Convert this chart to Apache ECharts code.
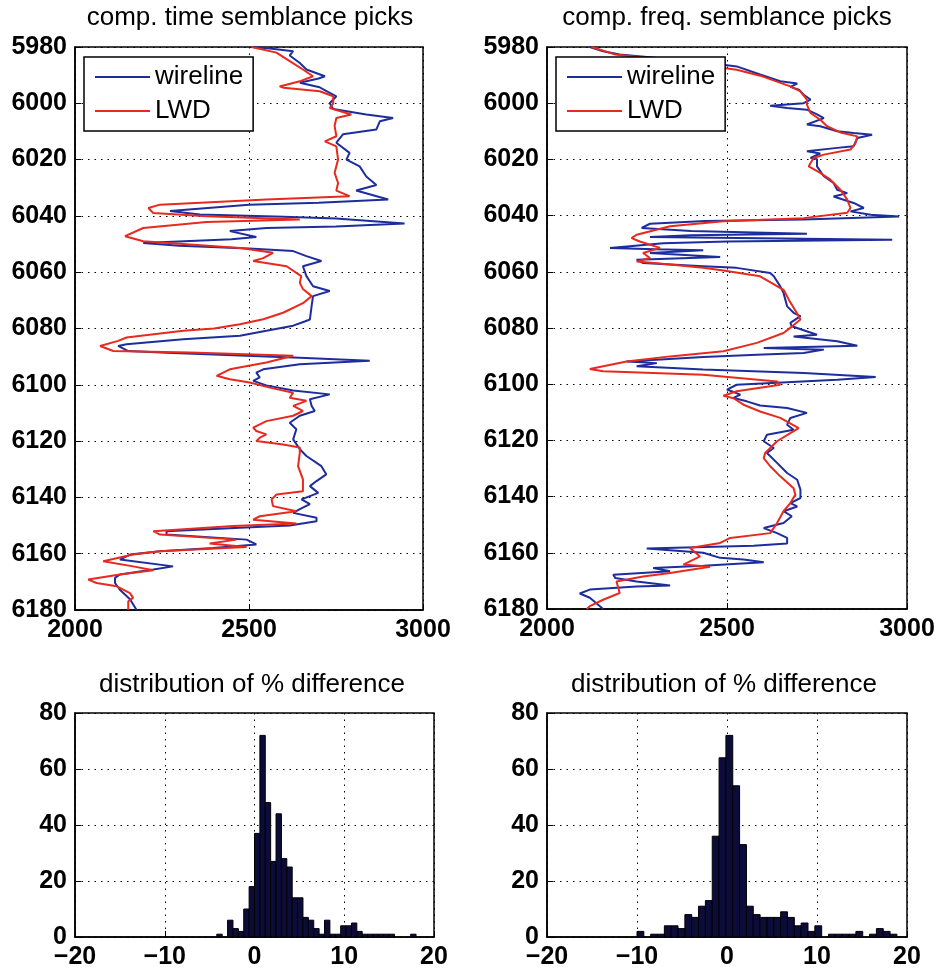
<!DOCTYPE html>
<html>
<head>
<meta charset="utf-8">
<title>semblance picks</title>
<script src="https://cdn.jsdelivr.net/npm/echarts@6/dist/echarts.min.js"></script>
<style>
    html, body { margin: 0; padding: 0; background: #fff; }
    #chart { width: 942px; height: 976px; }
</style>
</head>
<body>
<div id="chart"></div>
<script>
// picks: [slowness-ish value, depth]
const timeWireline = [
    [2512, 5980], [2560, 5980.5], [2627, 5981.5], [2617, 5983], [2646, 5985.7], [2665, 5988],
    [2718, 5990.4], [2700, 5991.2], [2646, 5992.7], [2703, 5994.3], [2720, 5995.5], [2751, 5997.5],
    [2732, 6000], [2742, 6002], [2837, 6004], [2914, 6005.2], [2876, 6006.4], [2866, 6009.3],
    [2770, 6011], [2751, 6014], [2789, 6017.6], [2780, 6020], [2818, 6022.4], [2837, 6026],
    [2866, 6029], [2808, 6031], [2900, 6034.2], [2700, 6035.3], [2500, 6036], [2400, 6037],
    [2273, 6038.3], [2359, 6039.5], [2600, 6040.3], [2750, 6040.9], [2947, 6042.7], [2750, 6043.8],
    [2550, 6044.3], [2445, 6045.4], [2521, 6047.5], [2450, 6048.3], [2196, 6049.6], [2300, 6050.6],
    [2500, 6051.6], [2627, 6052.5], [2665, 6054.3], [2708, 6056], [2655, 6057.9], [2665, 6061.4],
    [2684, 6065], [2732, 6066.7], [2684, 6068.5], [2680, 6072], [2675, 6076.8], [2660, 6077.5],
    [2627, 6079], [2550, 6080.8], [2474, 6082.6], [2311, 6083.8], [2148, 6085.6], [2124, 6086.2],
    [2153, 6088], [2263, 6088.6], [2646, 6090.4], [2847, 6091.5], [2646, 6092.7], [2541, 6094.5],
    [2521, 6095.7], [2531, 6097.4], [2512, 6098.6], [2550, 6100.2], [2627, 6102], [2732, 6103.4],
    [2675, 6105.1], [2680, 6107.5], [2689, 6109.3], [2646, 6111], [2617, 6113.5], [2636, 6115.8],
    [2627, 6119.4], [2646, 6122.9], [2665, 6125.3], [2708, 6128.9], [2722, 6131.8], [2694, 6134.2],
    [2675, 6136], [2699, 6138.4], [2651, 6140.7], [2675, 6142.4], [2646, 6144.2], [2627, 6145.5],
    [2694, 6147.2], [2694, 6148.5], [2617, 6150], [2474, 6150.8], [2263, 6152], [2263, 6153.2],
    [2493, 6155], [2521, 6156.7], [2397, 6158], [2244, 6159.1], [2158, 6160.3], [2129, 6162.1],
    [2282, 6164.5], [2225, 6165.6], [2129, 6167.4], [2115, 6168.6], [2115, 6170.4], [2129, 6172.8],
    [2158, 6176.2], [2177, 6180]
];

const timeLwd = [
    [2507, 5980], [2579, 5982], [2617, 5985], [2655, 5988], [2684, 5990.4], [2646, 5992.2],
    [2588, 5994], [2600, 5994.5], [2703, 5995.7], [2742, 5997.5], [2742, 6000], [2732, 6001.7],
    [2794, 6004], [2751, 6005.2], [2746, 6008], [2751, 6011.7], [2718, 6013.5], [2751, 6015.3],
    [2756, 6020], [2746, 6024.7], [2756, 6028.3], [2751, 6031], [2789, 6033], [2550, 6034.2],
    [2244, 6036], [2211, 6037.2], [2225, 6039], [2378, 6040.1], [2646, 6041.3], [2378, 6042.2],
    [2196, 6044.3], [2144, 6047.2], [2196, 6049], [2474, 6051.4], [2569, 6053.1], [2541, 6055],
    [2512, 6056], [2608, 6057.9], [2650, 6061.4], [2646, 6063.8], [2655, 6066], [2680, 6068.5],
    [2655, 6071], [2598, 6074.4], [2541, 6076.7], [2474, 6078.5], [2400, 6080], [2311, 6080.8],
    [2148, 6083.2], [2124, 6084.4], [2072, 6086.2], [2110, 6088], [2330, 6088.5], [2627, 6089.7],
    [2550, 6092.1], [2445, 6094.5], [2407, 6096.8], [2445, 6098], [2502, 6099.2], [2560, 6101],
    [2627, 6102.8], [2617, 6104.6], [2665, 6105.7], [2627, 6107.5], [2655, 6109.3], [2627, 6111],
    [2550, 6112.9], [2512, 6115.2], [2521, 6116.4], [2550, 6117.6], [2531, 6118.8], [2521, 6120],
    [2598, 6121.2], [2646, 6122.3], [2646, 6124.1], [2641, 6128.9], [2655, 6133.6], [2655, 6137.8],
    [2579, 6139], [2565, 6140.7], [2569, 6143.1], [2636, 6144.9], [2531, 6146.7], [2512, 6147.9],
    [2636, 6149.3], [2455, 6150.2], [2225, 6152], [2244, 6153.2], [2464, 6155], [2387, 6156.4],
    [2493, 6157.6], [2244, 6159.1], [2167, 6160.3], [2081, 6162.7], [2167, 6164.5], [2225, 6165.9],
    [2129, 6167.4], [2038, 6169.2], [2062, 6170.4], [2120, 6171.6], [2158, 6174], [2167, 6175.7],
    [2153, 6176.9], [2153, 6180]
];

const freqWireline = [
    [2119, 5980], [2156, 5981.5], [2202, 5982.7], [2300, 5983.8], [2400, 5985], [2490, 5986.3],
    [2527, 5986.9], [2592, 5989.8], [2648, 5992.2], [2695, 5993], [2676, 5994.2], [2700, 5995.2],
    [2713, 5997], [2732, 5998.7], [2713, 6000], [2620, 6000.9], [2667, 6001.7], [2722, 6002.3],
    [2750, 6004], [2769, 6005.3], [2722, 6007.6], [2759, 6008.2], [2806, 6010], [2852, 6010.6],
    [2903, 6011.2], [2862, 6012.4], [2852, 6015.3], [2806, 6015.9], [2722, 6017.1], [2759, 6017.9],
    [2732, 6019.5], [2750, 6019.9], [2750, 6022.5], [2769, 6026], [2796, 6028.4], [2806, 6030.8],
    [2834, 6032], [2796, 6033.2], [2852, 6035.5], [2880, 6037.3], [2843, 6038.5], [2899, 6039.7],
    [2978, 6040.3], [2713, 6041.4], [2440, 6041.9], [2286, 6042.9], [2263, 6044.4], [2400, 6045.5],
    [2722, 6046.5], [2400, 6047], [2286, 6047.6], [2959, 6048.6], [2500, 6049.2], [2323, 6049.8],
    [2175, 6051.5], [2300, 6052], [2434, 6052.3], [2286, 6053.3], [2481, 6054.7], [2249, 6055.7],
    [2267, 6056.9], [2434, 6058], [2527, 6058.6], [2620, 6060.4], [2630, 6061.6], [2648, 6065.2],
    [2657, 6067.5], [2662, 6069.9], [2667, 6072.3], [2685, 6074.6], [2704, 6075.8], [2676, 6078.2],
    [2680, 6079.4], [2750, 6082.4], [2685, 6083], [2806, 6084.7], [2862, 6086.3], [2602, 6087.1],
    [2769, 6087.7], [2713, 6088.9], [2583, 6089.5], [2434, 6090.3], [2221, 6091.9], [2305, 6092.5],
    [2249, 6093.6], [2434, 6094.8], [2713, 6096], [2913, 6097.4], [2806, 6098.4], [2527, 6100.2],
    [2500, 6101.9], [2537, 6103.7], [2518, 6104.9], [2555, 6106.1], [2592, 6107.6], [2667, 6108.5],
    [2722, 6110.2], [2676, 6112], [2667, 6114.4], [2685, 6116.2], [2611, 6118], [2602, 6120.3],
    [2630, 6122.7], [2611, 6124.5], [2639, 6128], [2667, 6131.6], [2695, 6134], [2704, 6137.5],
    [2704, 6140.5], [2676, 6142.3], [2695, 6143.5], [2657, 6145.2], [2680, 6147], [2657, 6149.4],
    [2602, 6151.2], [2639, 6153], [2667, 6154.7], [2667, 6156.7], [2574, 6157.5], [2277, 6158.5],
    [2434, 6160], [2481, 6161.8], [2546, 6162.4], [2602, 6163.4], [2434, 6164.6], [2295, 6165.4],
    [2342, 6166.6], [2184, 6167.8], [2190, 6169], [2249, 6170.2], [2342, 6171.6], [2249, 6172],
    [2119, 6173.1], [2091, 6174.5], [2119, 6176], [2156, 6180]
];

const freqLwd = [
    [2124, 5980], [2190, 5982.7], [2300, 5984.2], [2400, 5985.7], [2490, 5987.5], [2527, 5988.1],
    [2592, 5990.2], [2676, 5994], [2704, 5995.8], [2722, 5998.7], [2722, 6000.5], [2732, 6003.5],
    [2759, 6005.9], [2778, 6008.2], [2815, 6010.4], [2862, 6011.8], [2857, 6014.2], [2843, 6016.5],
    [2769, 6018.3], [2741, 6019.5], [2732, 6021.3], [2727, 6022.5], [2759, 6024.8], [2787, 6027.2],
    [2815, 6030.8], [2834, 6034.3], [2843, 6037.3], [2834, 6039], [2713, 6040.9], [2490, 6042],
    [2342, 6043.8], [2249, 6046.8], [2235, 6048], [2258, 6049.2], [2314, 6051.5], [2267, 6053.3],
    [2286, 6055.1], [2249, 6056.3], [2305, 6057], [2434, 6058.6], [2490, 6059.5], [2592, 6061.6],
    [2657, 6066.4], [2662, 6067.5], [2672, 6070], [2694, 6074.7], [2704, 6077], [2680, 6079.5],
    [2657, 6081.8], [2583, 6085.3], [2490, 6088.3], [2342, 6090.1], [2221, 6091.9], [2119, 6094.6],
    [2156, 6095.4], [2434, 6096.6], [2639, 6099], [2648, 6100.2], [2527, 6102.5], [2490, 6104.1],
    [2518, 6105], [2546, 6107.3], [2592, 6109.7], [2648, 6112], [2699, 6115.6], [2676, 6117.4],
    [2639, 6120.3], [2606, 6124.5], [2602, 6126.3], [2620, 6129.2], [2648, 6132.8], [2685, 6137],
    [2690, 6139.3], [2676, 6142.3], [2657, 6145.2], [2639, 6149.4], [2620, 6153], [2509, 6154.7],
    [2481, 6156.5], [2397, 6158.3], [2425, 6161.3], [2379, 6164.2], [2453, 6165], [2342, 6167.2],
    [2267, 6168.4], [2193, 6170.2], [2202, 6174.3], [2156, 6176.7], [2119, 6179], [2110, 6180]
];

// histogram counts of % difference
const timeBinStart = -4.2;
const timeBinWidth = 0.6;
const timeCounts = [1, 0, 6, 3, 2, 10, 18, 37, 72, 48, 27, 44, 28, 25, 14, 14, 7, 6, 3, 1,
    6, 1, 1, 4, 4, 5, 2, 1, 1, 1, 1, 1, 1, 0, 0, 0, 1];

const freqBinStart = -10;
const freqBinWidth = 0.76;
const freqCounts = [2, 0, 1, 1, 4, 4, 3, 8, 7, 11, 13, 36, 64, 72, 54, 33, 11, 8, 7, 7,
    7, 9, 7, 4, 5, 2, 4, 0, 1, 1, 1, 1, 2, 0, 1, 3, 2, 1];

const depthTicks = { min: 5980, max: 6180, interval: 20 };
const velTicks = { min: 2000, max: 3000, interval: 500 };
const diffTicks = { min: -20, max: 20, interval: 10 };
const countTicks = { min: 0, max: 80, interval: 20 };

const titles = [
    'comp. time semblance picks',
    'comp. freq. semblance picks',
    'distribution of % difference',
    'distribution of % difference'
];

const FONT = 'Liberation Sans, Arial, Helvetica, sans-serif';
const BLUE = '#1e2d9c';
const RED = '#e8291e';

function toBins(start, width, counts) {
    let out = [];
    counts.forEach((c, i) => {
        if (c > 0) {
            out.push([start + i * width, start + (i + 1) * width, c]);
        }
    });
    return out;
}

function renderBar(params, api) {
    let top = api.coord([api.value(0), api.value(2)]);
    let bottom = api.coord([api.value(1), 0]);
    return {
        type: 'rect',
        shape: {
            x: top[0],
            y: top[1],
            width: bottom[0] - top[0],
            height: bottom[1] - top[1]
        },
        style: {
            fill: '#0c0c3a',
            stroke: '#000',
            lineWidth: 1
        }
    };
}

// plain numbers, with a real minus sign like the print
const tickLabel = {
    color: '#000',
    fontFamily: FONT,
    fontSize: 25,
    fontWeight: 'bold',
    margin: 8,
    formatter: v => String(v).replace('-', '\u2212')
};

function axis(gridIndex, ticks, extra) {
    return Object.assign({
        type: 'value',
        gridIndex: gridIndex,
        min: ticks.min,
        max: ticks.max,
        interval: ticks.interval,
        axisLine: { show: true, onZero: false, lineStyle: { color: '#000', width: 1.5 } },
        axisTick: { show: true, inside: true, length: 6, lineStyle: { color: '#000' } },
        axisLabel: tickLabel,
        splitLine: { show: true, lineStyle: { color: '#000', type: [1.5, 5], width: 1 } }
    }, extra || {});
}

function legend(left) {
    return {
        left: left,
        top: 57,
        orient: 'vertical',
        data: ['wireline', 'LWD'],
        icon: 'rect',
        itemWidth: 55,
        itemHeight: 2,
        itemGap: 8,
        itemTextGap: 7,
        padding: [7, 10, 7, 11],
        backgroundColor: '#fff',
        borderColor: '#000',
        borderWidth: 1.5,
        borderRadius: 0,
        selectedMode: false,
        textStyle: { color: '#000', fontFamily: FONT, fontSize: 26 }
    };
}

function title(text, x, top) {
    return {
        text: text,
        left: x,
        top: top,
        textAlign: 'center',
        padding: 0,
        textStyle: { color: '#000', fontFamily: FONT, fontSize: 26, fontWeight: 'normal' }
    };
}

function line(name, data, index, color) {
    return {
        name: name,
        type: 'line',
        xAxisIndex: index,
        yAxisIndex: index,
        data: data,
        showSymbol: false,
        animation: false,
        lineStyle: { color: color, width: 2 },
        itemStyle: { color: color }
    };
}

const grid = { show: true, borderColor: '#000', borderWidth: 1.5, containLabel: false };

let chart = echarts.init(document.getElementById('chart'), null, { renderer: 'canvas' });

chart.setOption({
    backgroundColor: '#fff',
    animation: false,
    title: [
        title(titles[0], 250, 5),
        title(titles[1], 727, 5),
        title(titles[2], 252, 672),
        title(titles[3], 724, 672)
    ],
    legend: [legend(84), legend(556)],
    grid: [
        Object.assign({ left: 75, top: 47, width: 348, height: 563 }, grid),
        Object.assign({ left: 547, top: 47, width: 360, height: 562 }, grid),
        Object.assign({ left: 75, top: 713, width: 359, height: 224 }, grid),
        Object.assign({ left: 547, top: 713, width: 360, height: 224 }, grid)
    ],
    xAxis: [
        axis(0, velTicks),
        axis(1, velTicks),
        axis(2, diffTicks),
        axis(3, diffTicks)
    ],
    yAxis: [
        axis(0, depthTicks, { inverse: true }),
        axis(1, depthTicks, { inverse: true }),
        axis(2, countTicks),
        axis(3, countTicks)
    ],
    series: [
        line('wireline', timeWireline, 0, BLUE),
        line('LWD', timeLwd, 0, RED),
        line('wireline', freqWireline, 1, BLUE),
        line('LWD', freqLwd, 1, RED),
        {
            type: 'custom',
            xAxisIndex: 2,
            yAxisIndex: 2,
            renderItem: renderBar,
            encode: { x: [0, 1], y: 2 },
            data: toBins(timeBinStart, timeBinWidth, timeCounts)
        },
        {
            type: 'custom',
            xAxisIndex: 3,
            yAxisIndex: 3,
            renderItem: renderBar,
            encode: { x: [0, 1], y: 2 },
            data: toBins(freqBinStart, freqBinWidth, freqCounts)
        }
    ]
});
</script>
</body>
</html>
